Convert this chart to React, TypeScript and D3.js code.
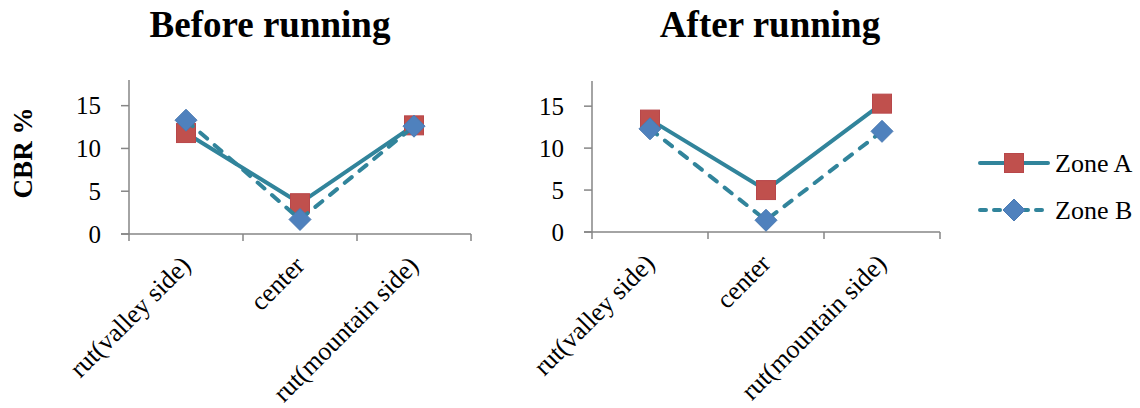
import React from "react";
import * as d3 from "d3";

const categories = ["rut(valley side)", "center", "rut(mountain side)"];
const yTicks = [0, 5, 10, 15];
const beforeZoneA = [11.8, 3.6, 12.7];
const beforeZoneB = [13.3, 1.7, 12.6];
const afterZoneA = [13.4, 5.0, 15.3];
const afterZoneB = [12.3, 1.4, 12.0];
const seriesNames = ["Zone A", "Zone B"];

const LINE = "#31849B";
const RED = "#C0504D";
const BLUE = "#4F81BD";
const AXIS = "#868686";
const FONT = "'Liberation Serif', 'Times New Roman', serif";

type PanelProps = {
  title: string;
  a: number[];
  b: number[];
  x0: number;
  x1: number;
  yBottom: number;
  yTop: number;
  titleX: number;
};

function Square({ x, y }: { x: number; y: number }) {
  const s = 19;
  return <rect x={x - s / 2} y={y - s / 2} width={s} height={s} fill={RED} stroke="#B8474A" strokeWidth={1} />;
}

function Diamond({ x, y }: { x: number; y: number }) {
  const r = 11;
  return <path d={`M${x},${y - r}L${x + r},${y}L${x},${y + r}L${x - r},${y}Z`} fill={BLUE} stroke="#4A7AB3" strokeWidth={1} />;
}

function Panel({ title, a, b, x0, x1, yBottom, yTop, titleX }: PanelProps) {
  const x = d3.scaleBand<string>().domain(categories).range([x0, x1]).padding(0);
  const y = d3.scaleLinear().domain([0, 18]).range([yBottom, yTop]);
  const cx = (c: string) => (x(c) as number) + x.bandwidth() / 2;
  const line = d3
    .line<number>()
    .x((_, i) => cx(categories[i]))
    .y((d) => y(d));
  const boundaries = [x0, ...categories.map((c) => (x(c) as number) + x.bandwidth())];
  return (
    <g>
      <text x={titleX} y={37} textAnchor="middle" fontFamily={FONT} fontWeight="bold" fontSize={37}>
        {title}
      </text>
      {/* y axis */}
      <line x1={x0} x2={x0} y1={y(18)} y2={y(0)} stroke={AXIS} strokeWidth={1.5} />
      {yTicks.map((t) => (
        <g key={t}>
          <line x1={x0 - 8} x2={x0} y1={y(t)} y2={y(t)} stroke={AXIS} strokeWidth={1.5} />
          <text x={x0 - 28} y={y(t) + 8.5} textAnchor="end" fontFamily={FONT} fontSize={25} fill="#000">
            {t}
          </text>
        </g>
      ))}
      {/* x axis */}
      <line x1={x0 - 8} x2={x1} y1={y(0)} y2={y(0)} stroke={AXIS} strokeWidth={1.5} />
      {boundaries.map((bx, i) => (
        <line key={i} x1={bx} x2={bx} y1={y(0)} y2={y(0) + 7} stroke={AXIS} strokeWidth={1.5} />
      ))}
      {categories.map((c) => (
        <text
          key={c}
          transform={`translate(${cx(c) + 6},${y(0) + 33}) rotate(-45)`}
          textAnchor="end"
          fontFamily={FONT}
          fontSize={26}
          fill="#000"
        >
          {c}
        </text>
      ))}
      {/* Zone A */}
      <path d={line(a) || ""} fill="none" stroke={LINE} strokeWidth={4} strokeLinejoin="round" />
      {a.map((v, i) => (
        <Square key={i} x={cx(categories[i])} y={y(v)} />
      ))}
      {/* Zone B */}
      <path
        d={line(b) || ""}
        fill="none"
        stroke={LINE}
        strokeWidth={4}
        strokeDasharray="9,10"
        strokeLinecap="round"
        strokeLinejoin="round"
      />
      {b.map((v, i) => (
        <Diamond key={i} x={cx(categories[i])} y={y(v)} />
      ))}
    </g>
  );
}

export default function App() {
  return (
    <svg width={1140} height={408} style={{ position: "absolute", left: 0, top: 0, background: "#fff" }}>
      <rect width={1140} height={408} fill="#fff" />
      <text
        transform="translate(32,153) rotate(-90)"
        textAnchor="middle"
        fontFamily={FONT}
        fontWeight="bold"
        fontSize={27}
      >
        CBR %
      </text>
      <Panel title="Before running" a={beforeZoneA} b={beforeZoneB} x0={129} x1={471} yBottom={234} yTop={80} titleX={270} />
      <Panel title="After running" a={afterZoneA} b={afterZoneB} x0={592} x1={940} yBottom={232} yTop={81} titleX={770} />
      {/* legend */}
      <g>
        <line x1={980} x2={1048} y1={163} y2={163} stroke={LINE} strokeWidth={4} strokeLinecap="round" />
        <Square x={1014} y={163} />
        <text x={1055} y={172} fontFamily={FONT} fontSize={26}>
          {seriesNames[0]}
        </text>
        <line
          x1={980}
          x2={1048}
          y1={210}
          y2={210}
          stroke={LINE}
          strokeWidth={4}
          strokeDasharray="6,8"
          strokeLinecap="round"
        />
        <Diamond x={1014} y={210} />
        <text x={1055} y={219} fontFamily={FONT} fontSize={26}>
          {seriesNames[1]}
        </text>
      </g>
    </svg>
  );
}
